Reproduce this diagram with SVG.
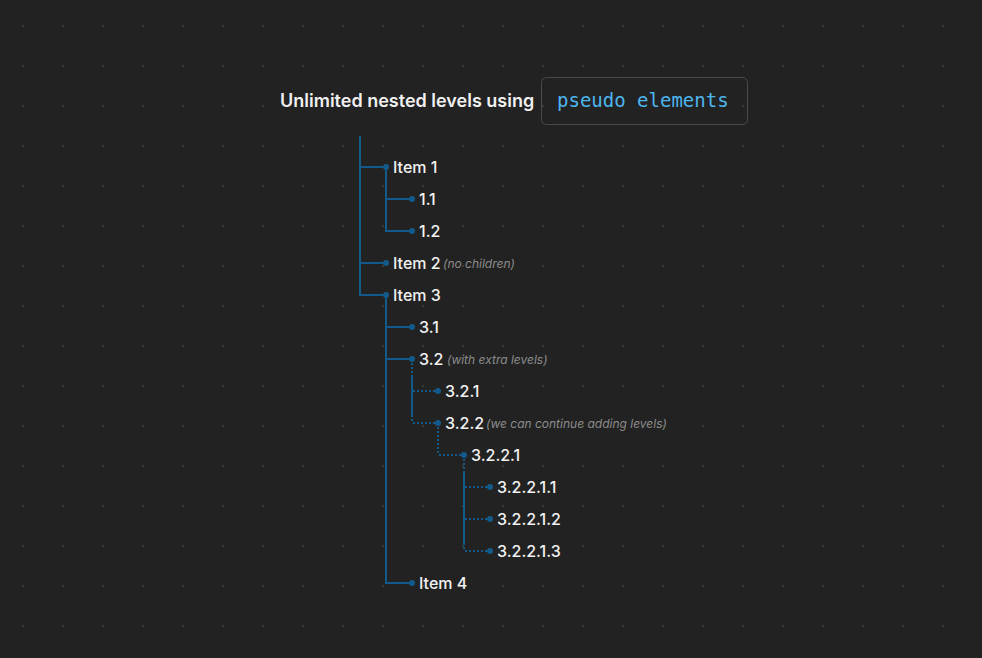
<svg xmlns="http://www.w3.org/2000/svg" width="982" height="658" viewBox="0 0 982 658">
  <defs>
    <pattern id="grid" x="0" y="0" width="40" height="40" patternUnits="userSpaceOnUse">
      <rect x="22" y="25" width="2" height="2" fill="#3c3c30"/>
    </pattern>
    <style>
      .ln { fill: none; stroke: #135a8c; stroke-width: 2; }
      .dt { fill: none; stroke: #135a8c; stroke-width: 2; stroke-dasharray: 2 2; }
      .dot { fill: #135a8c; }
      .lbl { font-family: Inter, "Noto Sans", "Liberation Sans", sans-serif; font-size: 16px; font-weight: 500; fill: #f2f2f2; }
      .note { font-family: Inter, "Noto Sans", "Liberation Sans", sans-serif; font-size: 12px; font-style: italic; fill: #8c8c8c; }
      .title { font-family: Inter, "Noto Sans", "Liberation Sans", sans-serif; font-size: 18px; font-weight: 600; fill: #f0f0f0; }
      .code { font-family: "DejaVu Sans Mono", "Liberation Mono", monospace; font-size: 19px; fill: #4db5ee; }
    </style>
  </defs>
  <rect width="982" height="658" fill="#222222"/>
  <rect width="982" height="658" fill="url(#grid)"/>

  <g id="title">
    <text class="title" x="280" y="107">Unlimited nested levels using</text>
    <rect x="541.5" y="77.5" width="206" height="47" rx="5" fill="none" stroke="#4a4a4a" stroke-width="1"/>
    <text class="code" x="557" y="107">pseudo elements</text>
  </g>

  <g id="connectors">
    <path class="ln" d="M360 136 V295 M360 167 H386 M360 263 H386 M359 295 H386"/>
    <path class="ln" d="M386 167 V232 M386 199 H412 M385 231 H412"/>
    <path class="ln" d="M386 295 V584 M386 327 H412 M386 359 H412 M385 583 H412"/>
    <path class="dt" d="M412 359 V423 M413 391 H438 M413 423 H438"/>
    <path class="ln" d="M412 377 V417"/>
    <path class="dt" d="M438 423 V455 M439 455 H464"/>
    <path class="dt" d="M464 455 V551 M465 487 H490 M465 519 H490 M465 551 H490"/>
    <path class="ln" d="M464 473 V545"/>
  </g>

  <g id="item1"><circle class="dot" cx="386" cy="167" r="3"/><text class="lbl" x="393" y="172.5">Item 1</text></g>
  <g id="item1-1"><circle class="dot" cx="412" cy="199" r="3"/><text class="lbl" x="419" y="204.5">1.1</text></g>
  <g id="item1-2"><circle class="dot" cx="412" cy="231" r="3"/><text class="lbl" x="419" y="236.5">1.2</text></g>
  <g id="item2"><circle class="dot" cx="386" cy="263" r="3"/><text class="lbl" x="393" y="268.5">Item 2</text><text class="note" x="443" y="268">(no children)</text></g>
  <g id="item3"><circle class="dot" cx="386" cy="295" r="3"/><text class="lbl" x="393" y="300.5">Item 3</text></g>
  <g id="item3-1"><circle class="dot" cx="412" cy="327" r="3"/><text class="lbl" x="419" y="332.5">3.1</text></g>
  <g id="item3-2"><circle class="dot" cx="412" cy="359" r="3"/><text class="lbl" x="419" y="364.5">3.2</text><text class="note" x="447" y="364">(with extra levels)</text></g>
  <g id="item3-2-1"><circle class="dot" cx="438" cy="391" r="3"/><text class="lbl" x="445" y="396.5">3.2.1</text></g>
  <g id="item3-2-2"><circle class="dot" cx="438" cy="423" r="3"/><text class="lbl" x="445" y="428.5">3.2.2</text><text class="note" x="486" y="428">(we can continue adding levels)</text></g>
  <g id="item3-2-2-1"><circle class="dot" cx="464" cy="455" r="3"/><text class="lbl" x="471" y="460.5">3.2.2.1</text></g>
  <g id="item3-2-2-1-1"><circle class="dot" cx="490" cy="487" r="3"/><text class="lbl" x="497" y="492.5">3.2.2.1.1</text></g>
  <g id="item3-2-2-1-2"><circle class="dot" cx="490" cy="519" r="3"/><text class="lbl" x="497" y="524.5">3.2.2.1.2</text></g>
  <g id="item3-2-2-1-3"><circle class="dot" cx="490" cy="551" r="3"/><text class="lbl" x="497" y="556.5">3.2.2.1.3</text></g>
  <g id="item4"><circle class="dot" cx="412" cy="583" r="3"/><text class="lbl" x="419" y="588.5">Item 4</text></g>
</svg>
